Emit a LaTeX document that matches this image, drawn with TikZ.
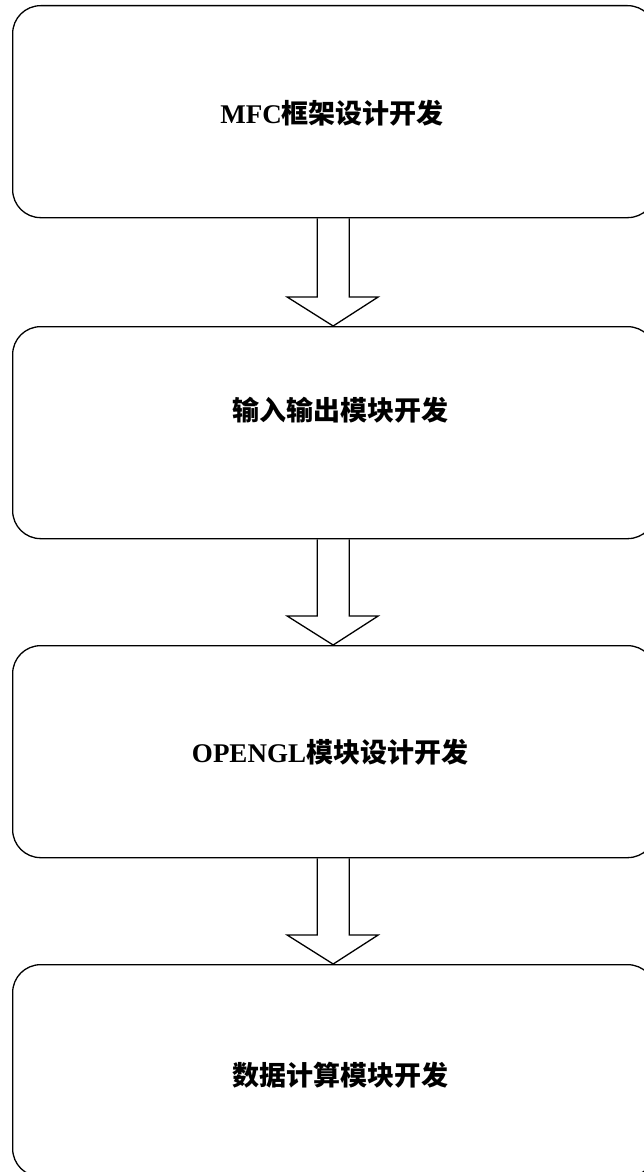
\documentclass[tikz,border=0pt]{standalone}
\usepackage{fontspec}
\setmainfont{Liberation Serif}
\newfontfamily\cjk{Noto Sans CJK SC}
\usetikzlibrary{calc}
\tikzset{
  stagebox/.style={draw=black, line width=1.3pt, rounded corners=28pt, rectangle,
    minimum width=643pt, minimum height=212pt, inner sep=0pt, anchor=north west},
  stagetext/.style={font=\fontsize{27}{30}\selectfont\bfseries, inner sep=0pt},
  blockarrow/.style={draw=black, line width=1.3pt, line join=miter}
}
\begin{document}
\begin{tikzpicture}[x=1pt,y=-1pt]
\useasboundingbox (0,0) rectangle (644,1172);
\clip (0,0) rectangle (644,1172);
\node[stagebox] (b1) at (12,5) {};
\node[stagebox] (b2) at (12,326) {};
\node[stagebox] (b3) at (12,645) {};
\node[stagebox] (b4) at (12,964) {};
\node[stagetext] (t1) at (332,113) {MFC{\cjk\bfseries 框架设计开发}};
\node[stagetext] (t2) at (340,410) {{\cjk\bfseries 输入输出模块开发}};
\node[stagetext] (t3) at (330,752) {OPENGL{\cjk\bfseries 模块设计开发}};
\node[stagetext] (t4) at (340,1075) {{\cjk\bfseries 数据计算模块开发}};
\foreach \a/\b in {b1/b2,b2/b3,b3/b4}{
  \draw[blockarrow] ($(\a.south)+(-17,0)$) -- ($(\b.north)+(-17,-29)$)
    -- ($(\b.north)+(-47,-29)$) -- ($(\b.north)+(-1,0)$)
    -- ($(\b.north)+(44,-29)$) -- ($(\b.north)+(15,-29)$)
    -- ($(\a.south)+(15,0)$);
}
\end{tikzpicture}
\end{document}
